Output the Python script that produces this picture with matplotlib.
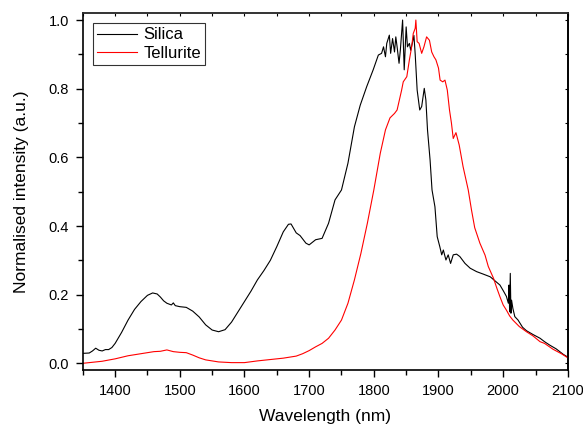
import matplotlib
matplotlib.use("Agg")
import matplotlib.pyplot as plt
from matplotlib.ticker import MultipleLocator

plt.rcParams['font.family'] = ['Liberation Sans', 'DejaVu Sans']

# silica spectrum
silica_wl = [1350, 1360, 1365, 1370, 1375, 1380, 1385, 1390, 1395, 1400, 1410, 1420,
             1430, 1440, 1450, 1458, 1465, 1470, 1475, 1480, 1487, 1490, 1493, 1500,
             1510, 1520, 1530, 1540, 1550, 1560, 1570, 1580, 1590, 1600, 1610, 1620,
             1630, 1640, 1650, 1660, 1668, 1672, 1680, 1686, 1695, 1700, 1710, 1720,
             1730, 1740, 1750, 1760, 1770, 1779, 1789, 1799, 1807, 1812, 1815, 1818,
             1820, 1824, 1826, 1829, 1832, 1834, 1836, 1839, 1841, 1844.5, 1847, 1850,
             1852, 1855, 1857, 1859.5, 1862, 1864, 1867, 1871, 1874, 1878, 1880.5, 1883,
             1887, 1890, 1894.5, 1898, 1902, 1905, 1907.5, 1911.5, 1915, 1918.7, 1922.8,
             1928, 1933, 1941, 1949, 1959, 1969, 1980, 1985, 1990, 1995, 2000, 2005,
             2008, 2009, 2010, 2011, 2012, 2013, 2015, 2018, 2023, 2030, 2036, 2046,
             2057, 2064, 2072, 2082, 2093, 2100]
silica_int = [0.029, 0.030, 0.036, 0.044, 0.038, 0.036, 0.040, 0.040, 0.046, 0.058, 0.090, 0.126,
              0.157, 0.180, 0.198, 0.205, 0.202, 0.193, 0.182, 0.175, 0.170, 0.176, 0.168, 0.165,
              0.163, 0.152, 0.135, 0.112, 0.097, 0.092, 0.098, 0.120, 0.150, 0.180, 0.210, 0.243,
              0.270, 0.300, 0.340, 0.383, 0.405, 0.406, 0.380, 0.372, 0.350, 0.345, 0.360, 0.364,
              0.408, 0.476, 0.505, 0.583, 0.689, 0.752, 0.806, 0.855, 0.898, 0.903, 0.922, 0.893,
              0.932, 0.956, 0.903, 0.946, 0.907, 0.951, 0.922, 0.874, 0.912, 1.000, 0.855, 0.980,
              0.922, 0.932, 0.912, 0.932, 0.955, 0.900, 0.796, 0.738, 0.748, 0.801, 0.767, 0.680,
              0.592, 0.505, 0.456, 0.369, 0.340, 0.316, 0.330, 0.301, 0.316, 0.291, 0.316,
              0.318, 0.311, 0.291, 0.277, 0.267, 0.260, 0.252, 0.244, 0.236, 0.228, 0.212, 0.195,
              0.175, 0.228, 0.150, 0.262, 0.146, 0.184, 0.160, 0.136, 0.126, 0.105, 0.095, 0.084,
              0.073, 0.063, 0.053, 0.042, 0.026, 0.018]

# tellurite spectrum
tell_wl = [1350, 1360, 1380, 1400, 1420, 1440, 1460, 1470, 1480, 1490, 1500, 1510, 1520,
           1530, 1540, 1560, 1580, 1600, 1620, 1640, 1660, 1680, 1690, 1700, 1710, 1720,
           1730, 1740, 1750, 1760, 1770, 1780, 1790, 1800, 1810, 1818, 1825, 1832, 1836,
           1843, 1845.5, 1851, 1855, 1858.5, 1861, 1864, 1865, 1867, 1870, 1874, 1877.5,
           1881.6, 1886, 1889.5, 1893, 1896, 1900, 1902.5, 1906.6, 1910, 1913.6, 1917, 1920,
           1922.8, 1927, 1932, 1938, 1946, 1951, 1956, 1964, 1972, 1977, 1985, 1990, 1995,
           2000, 2005, 2010, 2015, 2025, 2036, 2046, 2057, 2064, 2077, 2090, 2100]
tell_int = [0.000, 0.002, 0.006, 0.013, 0.022, 0.028, 0.034, 0.035, 0.039, 0.034, 0.032, 0.031, 0.024,
            0.016, 0.010, 0.004, 0.002, 0.002, 0.007, 0.011, 0.015, 0.021, 0.028, 0.037, 0.048, 0.058,
            0.073, 0.097, 0.126, 0.175, 0.243, 0.320, 0.408, 0.505, 0.612, 0.680, 0.715, 0.728, 0.738,
            0.796, 0.820, 0.835, 0.884, 0.922, 0.961, 0.976, 1.000, 0.937, 0.932, 0.903, 0.922,
            0.951, 0.941, 0.907, 0.893, 0.884, 0.860, 0.825, 0.820, 0.825, 0.796, 0.738, 0.700,
            0.655, 0.672, 0.636, 0.573, 0.505, 0.447, 0.395, 0.350, 0.315, 0.282, 0.248, 0.220, 0.194,
            0.170, 0.155, 0.138, 0.126, 0.107, 0.092, 0.080, 0.063, 0.058, 0.041, 0.028, 0.016]

fig = plt.figure(figsize=(5.83, 4.25), dpi=100)
ax = fig.add_axes([0.142, 0.129, 0.832, 0.840])

ax.plot(silica_wl, silica_int, color='black', lw=0.8, label='Silica')
ax.plot(tell_wl, tell_int, color='red', lw=0.8, label='Tellurite')

ax.set_xlim(1350, 2100)
ax.set_ylim(-0.02, 1.02)
ax.xaxis.set_major_locator(MultipleLocator(100))
ax.xaxis.set_minor_locator(MultipleLocator(50))
ax.yaxis.set_major_locator(MultipleLocator(0.2))
ax.yaxis.set_minor_locator(MultipleLocator(0.1))
ax.yaxis.set_major_formatter(plt.FormatStrFormatter('%.1f'))

ax.tick_params(which='both', direction='out', labelsize=10.5, width=1)
ax.tick_params(which='major', length=5, pad=5)
ax.tick_params(which='minor', length=3.5)

# mirrored ticks on top/right are short and point inward
sec_x = ax.secondary_xaxis('top')
sec_x.xaxis.set_major_locator(MultipleLocator(50))
sec_x.tick_params(direction='in', length=2, labeltop=False)
sec_x.spines['top'].set_linewidth(1.2)
sec_x.spines['top'].set_color('#333333')
sec_y = ax.secondary_yaxis('right')
sec_y.yaxis.set_major_locator(MultipleLocator(0.1))
sec_y.tick_params(direction='in', length=2.5, labelright=False)
sec_y.spines['right'].set_linewidth(1.2)
for s in ax.spines.values():
    s.set_linewidth(1.2)
ax.spines['top'].set_color('#333333')

ax.set_xlabel('Wavelength (nm)', fontsize=12.5, labelpad=8)
ax.set_ylabel('Normalised intensity (a.u.)', fontsize=12.5, labelpad=14)

leg = ax.legend(loc='upper left', fontsize=12, frameon=True, fancybox=False,
                edgecolor='black', handlelength=2.4, borderaxespad=0.6,
                borderpad=0.25, labelspacing=0.2, handletextpad=0.4)
leg.get_frame().set_linewidth(0.8)

fig.savefig('out.png', dpi=100)
